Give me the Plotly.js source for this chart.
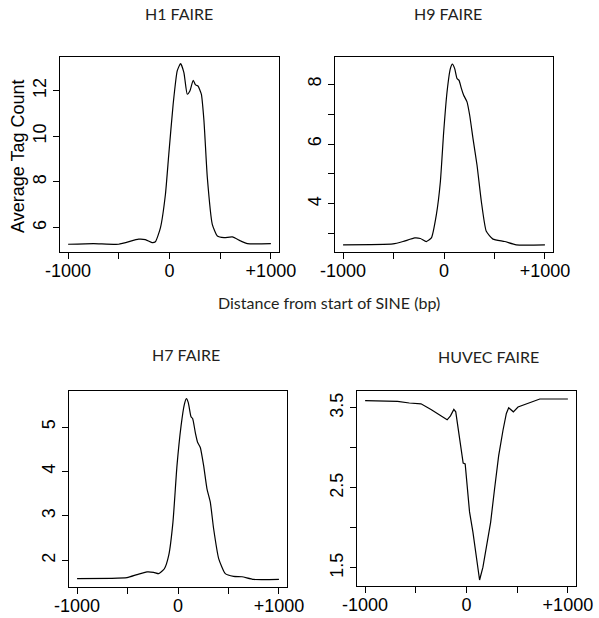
<!DOCTYPE html>
<html>
<head>
<meta charset="utf-8">
<script src="https://cdn.plot.ly/plotly-3.0.1.min.js"></script>
<style>html,body{margin:0;padding:0;background:#fff;}#chart{width:599px;height:618px;}</style>
</head>
<body>
<div id="chart"></div>
<script>
// ---- Data ----
const titles = ["H1 FAIRE", "H9 FAIRE", "H7 FAIRE", "HUVEC FAIRE"];
const xTickVals = [-1000, -500, 0, 500, 1000];
const xTickText = ["-1000", "", "0", "", "+1000"];

const h1X = [-1000, -749, -502, -304, -238, -172, -139, -89, -40, -7, 36, 76, 109, 142, 175, 201, 234, 257, 281, 314, 340, 373, 422, 472, 538, 620, 703, 769, 1000];
const h1Y = [5.27, 5.30, 5.27, 5.49, 5.47, 5.34, 5.38, 6.0, 7.46, 9.21, 11.4, 12.86, 13.18, 12.79, 11.84, 11.98, 12.45, 12.25, 12.2, 11.84, 10.67, 8.19, 6.14, 5.63, 5.56, 5.59, 5.41, 5.30, 5.30];

const h9X = [-1000, -505, -406, -290, -234, -175, -125, -76, -36, -3, 30, 63, 83, 106, 129, 149, 172, 195, 228, 254, 287, 327, 370, 419, 485, 601, 716, 1000];
const h9Y = [2.63, 2.66, 2.74, 2.86, 2.84, 2.74, 2.86, 3.63, 4.74, 6.41, 7.74, 8.52, 8.67, 8.52, 8.19, 8.13, 7.86, 7.63, 7.41, 6.97, 6.19, 5.3, 4.08, 3.08, 2.82, 2.74, 2.63, 2.63];

const h7X = [-1000, -505, -406, -307, -241, -191, -135, -92, -50, -10, 30, 63, 83, 102, 129, 145, 172, 195, 221, 254, 287, 320, 353, 403, 469, 551, 634, 749, 1000];
const h7Y = [1.59, 1.61, 1.68, 1.74, 1.73, 1.70, 1.81, 2.11, 2.86, 4.13, 5.02, 5.51, 5.64, 5.55, 5.23, 5.19, 4.87, 4.65, 4.54, 4.13, 3.61, 3.31, 2.71, 2.04, 1.70, 1.64, 1.63, 1.57, 1.57];

const huvecX = [-1000, -680, -564, -449, -350, -251, -191, -158, -125, -106, -79, -53, -33, -13, 7, 30, 63, 96, 129, 162, 195, 238, 277, 317, 360, 393, 416, 436, 462, 508, 591, 723, 871, 1000];
const huvecY = [3.59, 3.58, 3.56, 3.55, 3.48, 3.40, 3.35, 3.40, 3.48, 3.45, 3.20, 2.99, 2.81, 2.80, 2.53, 2.20, 1.95, 1.65, 1.35, 1.51, 1.74, 2.07, 2.49, 2.90, 3.22, 3.43, 3.50, 3.48, 3.45, 3.51, 3.55, 3.61, 3.61, 3.61];

const h1TickVals = [6, 8, 10, 12];
const h1TickText = ["6", "8", "10", "12"];
const h9TickVals = [3, 4, 5, 6, 7, 8];
const h9TickText = ["", "4", "", "6", "", "8"];
const h7TickVals = [2, 3, 4, 5];
const h7TickText = ["2", "3", "4", "5"];
const huvecTickVals = [1.5, 2, 2.5, 3, 3.5];
const huvecTickText = ["1.5", "", "2.5", "", "3.5"];

const yAxisTitle = "Average Tag Count";
const xAxisTitle = "Distance from start of SINE (bp)";

// ---- Plot ----
const W = 599, H = 618;
const px = v => v / W;
const py = v => 1 - v / H;

const lineStyle = {color: "#000", width: 1.2};
const traces = [
  {x: h1X, y: h1Y, xaxis: "x", yaxis: "y", mode: "lines", line: Object.assign({shape: "spline", smoothing: 0.5}, lineStyle)},
  {x: h9X, y: h9Y, xaxis: "x2", yaxis: "y2", mode: "lines", line: Object.assign({shape: "spline", smoothing: 0.5}, lineStyle)},
  {x: h7X, y: h7Y, xaxis: "x3", yaxis: "y3", mode: "lines", line: Object.assign({shape: "spline", smoothing: 0.5}, lineStyle)},
  {x: huvecX, y: huvecY, xaxis: "x4", yaxis: "y4", mode: "lines", line: Object.assign({shape: "linear"}, lineStyle)}
];

const tickFont = {family: "Liberation Sans, Arial, sans-serif", size: 18, color: "#000"};
function xAx(domain, anchor) {
  return {domain: domain, anchor: anchor, range: [-1080, 1080], tickmode: "array",
    tickvals: xTickVals, ticktext: xTickText, ticks: "outside", ticklen: 6, tickwidth: 1, tickcolor: "#000",
    ticklabelstandoff: -4,
    showline: true, linecolor: "#000", linewidth: 1, mirror: true, showgrid: false, zeroline: false,
    tickfont: tickFont, fixedrange: true};
}
function yAx(domain, anchor, range, tv, tt) {
  return {domain: domain, anchor: anchor, range: range, tickmode: "array",
    tickvals: tv, ticktext: tt, ticks: "outside", ticklen: 6, tickwidth: 1, tickcolor: "#000",
    showline: true, linecolor: "#000", linewidth: 1, mirror: true, showgrid: false, zeroline: false,
    tickangle: -90, tickfont: tickFont, fixedrange: true};
}

const titleFont = {family: "Lato, sans-serif", size: 16, color: "#231f20"};
const layout = {
  width: W, height: H,
  margin: {l: 0, r: 0, t: 0, b: 0},
  paper_bgcolor: "#fff", plot_bgcolor: "#fff",
  showlegend: false,
  xaxis: xAx([px(60), px(279)], "y"),
  yaxis: yAx([py(252), py(57)], "x", [4.93, 13.47], h1TickVals, h1TickText),
  xaxis2: xAx([px(335), px(553)], "y2"),
  yaxis2: yAx([py(252), py(57)], "x2", [2.39, 8.91], h9TickVals, h9TickText),
  xaxis3: xAx([px(69), px(287)], "y3"),
  yaxis3: yAx([py(587), py(391)], "x3", [1.40, 5.81], h7TickVals, h7TickText),
  xaxis4: xAx([px(357), px(576)], "y4"),
  yaxis4: yAx([py(586), py(391)], "x4", [1.275, 3.71], huvecTickVals, huvecTickText),
  annotations: [
    {text: titles[0], x: px(179), y: py(14), xref: "paper", yref: "paper", showarrow: false, font: titleFont, xanchor: "center", yanchor: "middle"},
    {text: titles[1], x: px(448), y: py(14), xref: "paper", yref: "paper", showarrow: false, font: titleFont, xanchor: "center", yanchor: "middle"},
    {text: titles[2], x: px(186), y: py(354), xref: "paper", yref: "paper", showarrow: false, font: titleFont, xanchor: "center", yanchor: "middle"},
    {text: titles[3], x: px(488), y: py(356), xref: "paper", yref: "paper", showarrow: false, font: titleFont, xanchor: "center", yanchor: "middle"},
    {text: xAxisTitle, x: px(329), y: py(302), xref: "paper", yref: "paper", showarrow: false, font: titleFont, xanchor: "center", yanchor: "middle"},
    {text: yAxisTitle, x: px(18), y: py(157), xref: "paper", yref: "paper", showarrow: false, textangle: -90,
      font: {family: "Liberation Sans, Arial, sans-serif", size: 18, color: "#000"}, xanchor: "center", yanchor: "middle"}
  ]
};

Plotly.newPlot("chart", traces, layout, {displayModeBar: false, staticPlot: true});
</script>
</body>
</html>
